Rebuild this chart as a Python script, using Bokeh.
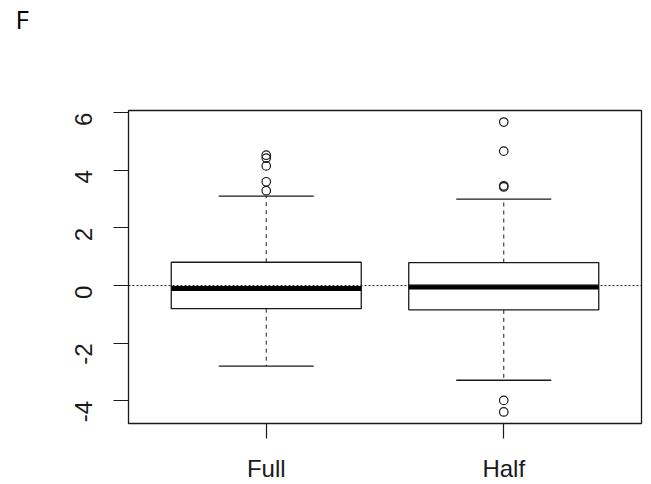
import math
from bokeh.plotting import figure
from bokeh.models import Range1d, FixedTicker, Span, ColumnDataSource, Title
from bokeh.embed import file_html
from bokeh.resources import INLINE

# ---- data ----
categories = ["Full", "Half"]
q1 = [-0.80, -0.84]
median = [-0.10, -0.05]
q3 = [0.81, 0.80]
lower_whisker = [-2.79, -3.28]
upper_whisker = [3.10, 3.00]
full_outliers = [4.52, 4.42, 4.15, 3.60, 3.29]
half_outliers = [5.67, 4.66, 3.46, 3.42, -3.98, -4.38]
y_ticks = [-4, -2, 0, 2, 4, 6]
reference_line = 0
panel_label = "F"

# ---- layout/style ----
BOX_HALF = 0.4
STAPLE_HALF = 0.2
FONT = "Liberation Sans"
INK = "#1a1a1a"

xs = [i + 1 for i in range(len(categories))]

p = figure(width=651, height=484, output_backend="svg", toolbar_location=None,
           x_range=Range1d(0.42, 2.58), y_range=Range1d(-4.78, 6.07),
           min_border_left=128, min_border_right=10, min_border_top=110,
           min_border_bottom=58)
p.background_fill_color = "white"
p.border_fill_color = "white"
p.outline_line_color = INK
p.outline_line_width = 1.3
p.xgrid.visible = False
p.ygrid.visible = False

src = ColumnDataSource(dict(
    x=xs,
    left=[x - BOX_HALF for x in xs], right=[x + BOX_HALF for x in xs],
    sl=[x - STAPLE_HALF for x in xs], sr=[x + STAPLE_HALF for x in xs],
    q1=q1, q3=q3, med=median, lo=lower_whisker, hi=upper_whisker,
))

# whiskers (dashed)
p.segment(x0="x", y0="q3", x1="x", y1="hi", source=src, line_color=INK,
          line_width=1, line_dash="4 4")
p.segment(x0="x", y0="q1", x1="x", y1="lo", source=src, line_color=INK,
          line_width=1, line_dash="4 4")
# staples
p.segment(x0="sl", y0="hi", x1="sr", y1="hi", source=src, line_color=INK, line_width=1.3)
p.segment(x0="sl", y0="lo", x1="sr", y1="lo", source=src, line_color=INK, line_width=1.3)
# boxes
p.quad(left="left", right="right", bottom="q1", top="q3", source=src,
       fill_color="white", line_color=INK, line_width=1.3)
# medians
p.segment(x0="left", y0="med", x1="right", y1="med", source=src,
          line_color="black", line_width=5)

# outliers
out_x = [xs[0]] * len(full_outliers) + [xs[1]] * len(half_outliers)
out_y = full_outliers + half_outliers
p.scatter(out_x, out_y, marker="circle", size=8.5, fill_color=None,
          line_color=INK, line_width=1.2)

# reference line
p.add_layout(Span(location=reference_line, dimension="width", line_color=INK,
                  line_width=1, line_dash="2 2"))

# axes
p.xaxis.ticker = FixedTicker(ticks=xs)
p.xaxis.major_label_overrides = {x: c for x, c in zip(xs, categories)}
p.xaxis.major_label_text_font = FONT
p.xaxis.major_label_text_font_size = "24px"
p.xaxis.major_label_text_color = INK
p.xaxis.major_label_standoff = 16
p.yaxis.ticker = FixedTicker(ticks=y_ticks)
p.yaxis.major_label_overrides = {t: str(t) for t in y_ticks}
p.yaxis.major_label_orientation = math.pi / 2
p.yaxis.major_label_text_font = FONT
p.yaxis.major_label_text_font_size = "24px"
p.yaxis.major_label_text_color = INK
p.yaxis.major_label_standoff = 30
for ax in (p.xaxis[0], p.yaxis[0]):
    ax.axis_line_color = None
    ax.major_tick_out = 15
    ax.major_tick_in = 0
    ax.major_tick_line_color = INK
    ax.major_tick_line_width = 1.2
    ax.minor_tick_line_color = None

# spacer panel (keeps the panel label at the top of the canvas)
p.add_layout(Title(text=" ", text_font_size="1px", standoff=69), "above")
# panel label
p.add_layout(Title(text=panel_label, text_font="Open Sans", text_font_size="26px",
                   text_font_style="normal", text_color="black", align="left",
                   offset=-113, standoff=0, vertical_align="top"), "above")

open("out.html", "w").write(file_html(p, INLINE))
